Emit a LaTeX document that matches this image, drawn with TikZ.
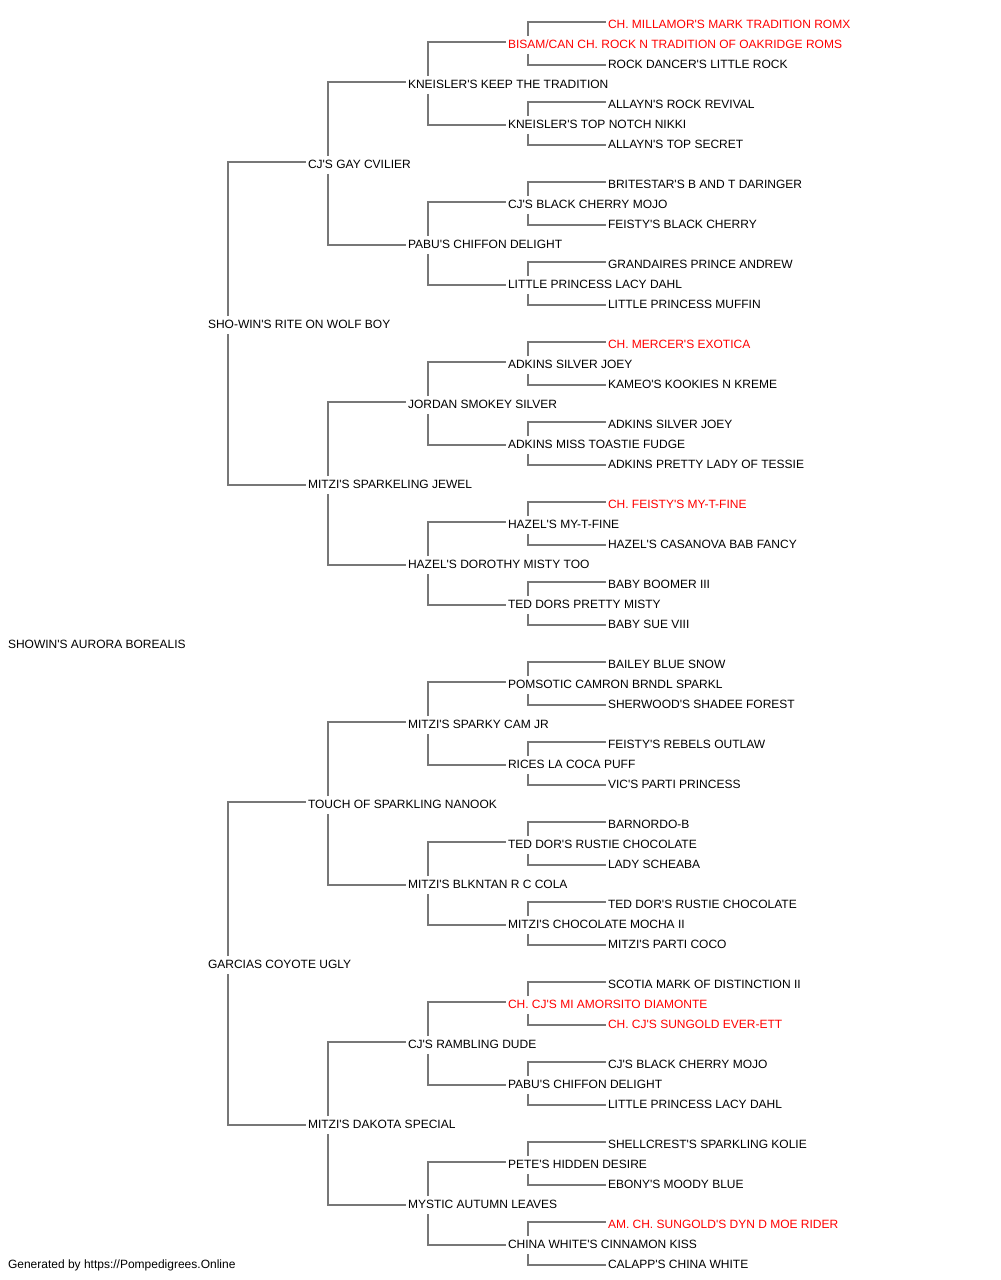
\documentclass[tikz,border=0pt]{standalone}
\usepackage{fontspec}
\setmainfont{Liberation Sans}[Ligatures=TeXOff]
\usetikzlibrary{calc}
\definecolor{linegray}{HTML}{777777}
\definecolor{redname}{HTML}{FF0000}
\tikzset{
  dog/.style={anchor=west, inner sep=0pt, outer sep=0pt, text height=6.45pt, text depth=0pt,
    font=\fontsize{9pt}{10pt}\selectfont, text=black},
  champ/.style={dog, text=redname},
  conn/.style={draw=linegray, line width=1.5pt}
}
\begin{document}
\begin{tikzpicture}[x=0.75pt,y=-0.75pt]
\useasboundingbox (0,0) rectangle (1000,1280);
% root
\node[dog] (n1) at (8,644) {SHOWIN'S AURORA BOREALIS};
% generation 1
\node[dog] (n2) at (208,324) {SHO-WIN'S RITE ON WOLF BOY};
\node[dog] (n3) at (208,964) {GARCIAS COYOTE UGLY};
% generation 2
\node[dog] (n4) at (308,164) {CJ'S GAY CVILIER};
\node[dog] (n5) at (308,484) {MITZI'S SPARKELING JEWEL};
\node[dog] (n6) at (308,804) {TOUCH OF SPARKLING NANOOK};
\node[dog] (n7) at (308,1124) {MITZI'S DAKOTA SPECIAL};
% generation 3
\node[dog] (n8) at (408,84) {KNEISLER'S KEEP THE TRADITION};
\node[dog] (n9) at (408,244) {PABU'S CHIFFON DELIGHT};
\node[dog] (n10) at (408,404) {JORDAN SMOKEY SILVER};
\node[dog] (n11) at (408,564) {HAZEL'S DOROTHY MISTY TOO};
\node[dog] (n12) at (408,724) {MITZI'S SPARKY CAM JR};
\node[dog] (n13) at (408,884) {MITZI'S BLKNTAN R C COLA};
\node[dog] (n14) at (408,1044) {CJ'S RAMBLING DUDE};
\node[dog] (n15) at (408,1204) {MYSTIC AUTUMN LEAVES};
% generation 4
\node[champ] (n16) at (508,44) {BISAM/CAN CH. ROCK N TRADITION OF OAKRIDGE ROMS};
\node[dog] (n17) at (508,124) {KNEISLER'S TOP NOTCH NIKKI};
\node[dog] (n18) at (508,204) {CJ'S BLACK CHERRY MOJO};
\node[dog] (n19) at (508,284) {LITTLE PRINCESS LACY DAHL};
\node[dog] (n20) at (508,364) {ADKINS SILVER JOEY};
\node[dog] (n21) at (508,444) {ADKINS MISS TOASTIE FUDGE};
\node[dog] (n22) at (508,524) {HAZEL'S MY-T-FINE};
\node[dog] (n23) at (508,604) {TED DORS PRETTY MISTY};
\node[dog] (n24) at (508,684) {POMSOTIC CAMRON BRNDL SPARKL};
\node[dog] (n25) at (508,764) {RICES LA COCA PUFF};
\node[dog] (n26) at (508,844) {TED DOR'S RUSTIE CHOCOLATE};
\node[dog] (n27) at (508,924) {MITZI'S CHOCOLATE MOCHA II};
\node[champ] (n28) at (508,1004) {CH. CJ'S MI AMORSITO DIAMONTE};
\node[dog] (n29) at (508,1084) {PABU'S CHIFFON DELIGHT};
\node[dog] (n30) at (508,1164) {PETE'S HIDDEN DESIRE};
\node[dog] (n31) at (508,1244) {CHINA WHITE'S CINNAMON KISS};
% generation 5
\node[champ] (n32) at (608,24) {CH. MILLAMOR'S MARK TRADITION ROMX};
\node[dog] (n33) at (608,64) {ROCK DANCER'S LITTLE ROCK};
\node[dog] (n34) at (608,104) {ALLAYN'S ROCK REVIVAL};
\node[dog] (n35) at (608,144) {ALLAYN'S TOP SECRET};
\node[dog] (n36) at (608,184) {BRITESTAR'S B AND T DARINGER};
\node[dog] (n37) at (608,224) {FEISTY'S BLACK CHERRY};
\node[dog] (n38) at (608,264) {GRANDAIRES PRINCE ANDREW};
\node[dog] (n39) at (608,304) {LITTLE PRINCESS MUFFIN};
\node[champ] (n40) at (608,344) {CH. MERCER'S EXOTICA};
\node[dog] (n41) at (608,384) {KAMEO'S KOOKIES N KREME};
\node[dog] (n42) at (608,424) {ADKINS SILVER JOEY};
\node[dog] (n43) at (608,464) {ADKINS PRETTY LADY OF TESSIE};
\node[champ] (n44) at (608,504) {CH. FEISTY'S MY-T-FINE};
\node[dog] (n45) at (608,544) {HAZEL'S CASANOVA BAB FANCY};
\node[dog] (n46) at (608,584) {BABY BOOMER III};
\node[dog] (n47) at (608,624) {BABY SUE VIII};
\node[dog] (n48) at (608,664) {BAILEY BLUE SNOW};
\node[dog] (n49) at (608,704) {SHERWOOD'S SHADEE FOREST};
\node[dog] (n50) at (608,744) {FEISTY'S REBELS OUTLAW};
\node[dog] (n51) at (608,784) {VIC'S PARTI PRINCESS};
\node[dog] (n52) at (608,824) {BARNORDO-B};
\node[dog] (n53) at (608,864) {LADY SCHEABA};
\node[dog] (n54) at (608,904) {TED DOR'S RUSTIE CHOCOLATE};
\node[dog] (n55) at (608,944) {MITZI'S PARTI COCO};
\node[dog] (n56) at (608,984) {SCOTIA MARK OF DISTINCTION II};
\node[champ] (n57) at (608,1024) {CH. CJ'S SUNGOLD EVER-ETT};
\node[dog] (n58) at (608,1064) {CJ'S BLACK CHERRY MOJO};
\node[dog] (n59) at (608,1104) {LITTLE PRINCESS LACY DAHL};
\node[dog] (n60) at (608,1144) {SHELLCREST'S SPARKLING KOLIE};
\node[dog] (n61) at (608,1184) {EBONY'S MOODY BLUE};
\node[champ] (n62) at (608,1224) {AM. CH. SUNGOLD'S DYN D MOE RIDER};
\node[dog] (n63) at (608,1264) {CALAPP'S CHINA WHITE};
% footer
\node[dog] (foot) at (8,1264) {Generated by https://Pompedigrees.Online};
% connectors
\foreach \p in {2,...,31}{
  \pgfmathtruncatemacro{\ca}{2*\p}
  \pgfmathtruncatemacro{\cb}{2*\p+1}
  \draw[conn] ($(n\p.west)+(20,-8)$) |- ($(n\ca.west)+(-2,-2)$);
  \draw[conn] ($(n\p.west)+(20,10)$) |- ($(n\cb.west)+(-2,1)$);
}
\end{tikzpicture}
\end{document}
